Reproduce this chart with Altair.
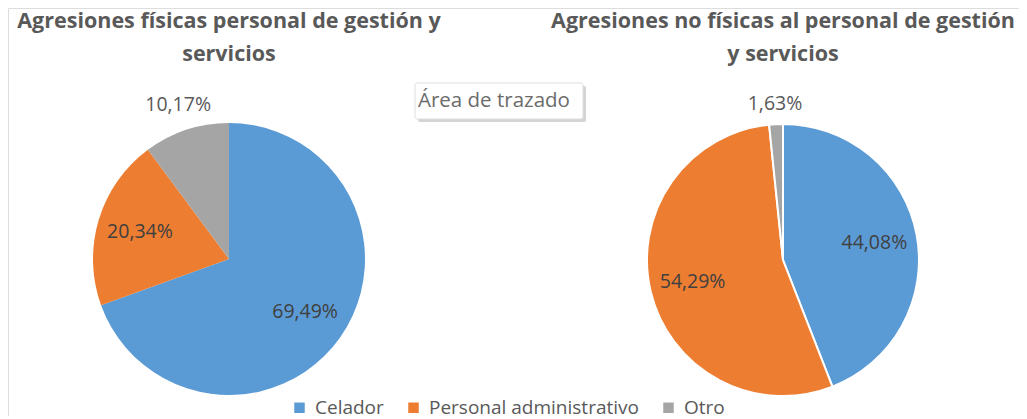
import altair as alt
import pandas as pd

categories = ["Celador", "Personal administrativo", "Otro"]
fisicas = [69.49, 20.34, 10.17]
no_fisicas = [44.08, 54.29, 1.63]
titles = {
    "fis": ["Agresiones físicas personal de gestión y", "servicios"],
    "nof": ["Agresiones no físicas al personal de gestión", "y servicios"],
}
note = "Área de trazado"
colors = ["#5B9BD5", "#ED7D31", "#A5A5A5"]

rows = []
for i, c in enumerate(categories):
    rows.append({"pie": "fis", "cat": c, "value": fisicas[i], "ord": i})
    rows.append({"pie": "nof", "cat": c, "value": no_fisicas[i], "ord": i})
df = pd.DataFrame(rows)
one = pd.DataFrame({"k": [0]})

FONT = "Open Sans"
R = 136
centers = {"fis": (221, 251), "nof": (775, 252)}
strokes = {"fis": 0, "nof": 2}
theta_scale = alt.Scale(domain=[0, 100])

color = alt.Color(
    "cat:N",
    scale=alt.Scale(domain=categories, range=colors),
    sort=categories,
    legend=alt.Legend(
        title=None,
        orient="none",
        direction="horizontal",
        legendX=282,
        legendY=390,
        symbolType="square",
        symbolSize=110,
        symbolStrokeWidth=0,
        labelFont=FONT,
        labelFontSize=19,
        labelColor="#595959",
        labelOffset=6,
        labelLimit=0,
        columnPadding=20,
    ),
)

layers = []
for key in ["fis", "nof"]:
    cx, cy = centers[key]
    base = alt.Chart(df).transform_filter(alt.datum.pie == key)
    arc = base.mark_arc(
        radius=R, stroke="white", strokeWidth=strokes[key], x=cx, y=cy
    ).encode(
        theta=alt.Theta("value:Q", stack=True, scale=theta_scale),
        color=color,
        order=alt.Order("ord:Q"),
    )
    txt = (
        base.transform_window(cum="sum(value)", sort=[alt.SortField("ord")], frame=[None, 0])
        .transform_calculate(
            mid="datum.cum - datum.value / 2",
            lab="replace(format(datum.value, '.2f'), '.', ',') + '%'",
            lr="datum.value < 5 ? 156 : (datum.value < 15 ? 162 : 93)",
        )
        .mark_text(font=FONT, fontSize=19.5, x=cx, y=cy)
        .encode(
            theta=alt.Theta("mid:Q", stack=None, scale=theta_scale),
            radius=alt.Radius("lr:Q", scale=None),
            text="lab:N",
            color=alt.condition(alt.datum.value < 15, alt.value("#595959"), alt.value("#404040")),
        )
    )
    layers += [arc, txt]
    for j, line in enumerate(titles[key]):
        layers.append(
            alt.Chart(one).mark_text(
                text=line,
                font=FONT,
                fontSize=21.5,
                fontWeight="bold",
                color="#595959",
                align="center",
                baseline="alphabetic",
            ).encode(x=alt.value(cx), y=alt.value(20 + 33 * j))
        )

shadow = alt.Chart(one).mark_rect(fill="#d4d4d4", cornerRadius=2).encode(
    x=alt.value(410), x2=alt.value(578), y=alt.value(78), y2=alt.value(114)
)
box = alt.Chart(one).mark_rect(fill="white", stroke="#dedede", cornerRadius=2).encode(
    x=alt.value(407), x2=alt.value(575), y=alt.value(75), y2=alt.value(111)
)
note_txt = alt.Chart(one).mark_text(
    text=note, font=FONT, fontSize=20.5, color="#6b6b6b", align="left", baseline="alphabetic"
).encode(x=alt.value(410), y=alt.value(99))

chart = (
    alt.layer(*layers, shadow, box, note_txt)
    .properties(width=1011, height=408, padding=0, autosize=alt.AutoSizeParams(type="none"))
    .configure_view(strokeWidth=0, stroke="transparent")
    .configure(background="white")
)

chart.save("out.html", embed_options={"renderer": "svg", "actions": False})
